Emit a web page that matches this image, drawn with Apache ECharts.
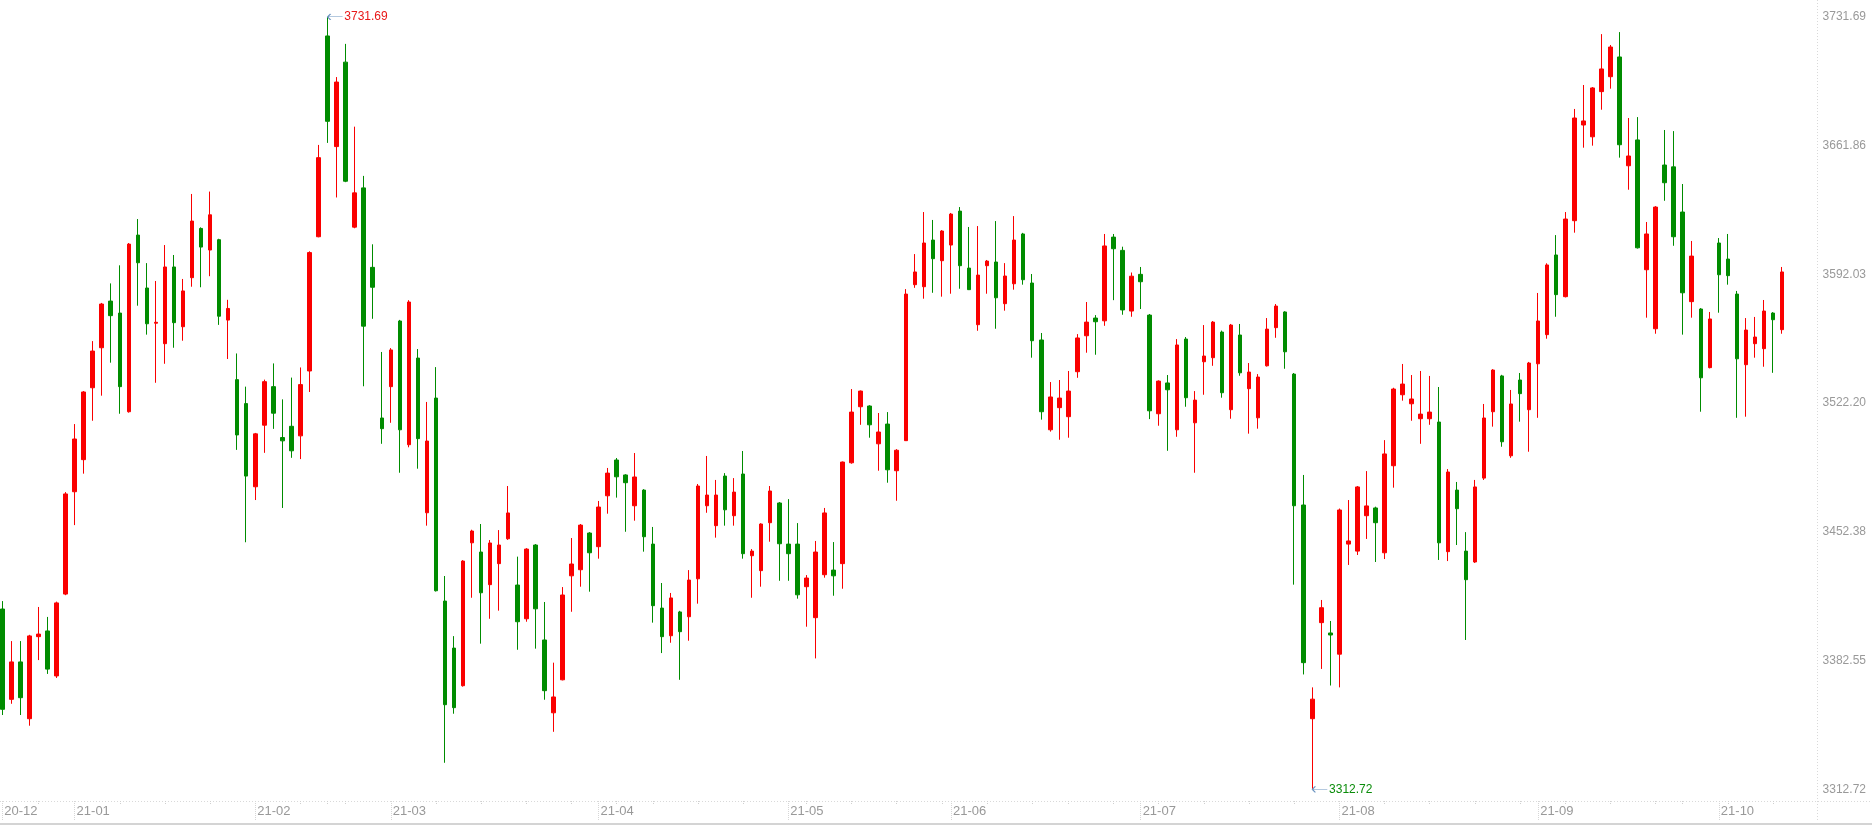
<!DOCTYPE html>
<html>
<head>
<meta charset="utf-8">
<title>日K线</title>
<script src="https://cdn.jsdelivr.net/npm/echarts@6/dist/echarts.min.js"></script>
<style>
  html, body { margin: 0; padding: 0; background: #fff; }
  #main { width: 1872px; height: 825px; }
</style>
</head>
<body>
<div id="main"></div>
<script type="text/javascript">
// 交易日
var dates = [
  '2020-12-22','2020-12-23','2020-12-24','2020-12-25','2020-12-28','2020-12-29','2020-12-30','2020-12-31',
  '2021-01-04','2021-01-05','2021-01-06','2021-01-07','2021-01-08','2021-01-11','2021-01-12','2021-01-13','2021-01-14','2021-01-15',
  '2021-01-18','2021-01-19','2021-01-20','2021-01-21','2021-01-22','2021-01-25','2021-01-26','2021-01-27','2021-01-28','2021-01-29',
  '2021-02-01','2021-02-02','2021-02-03','2021-02-04','2021-02-05','2021-02-08','2021-02-09','2021-02-10',
  '2021-02-18','2021-02-19','2021-02-22','2021-02-23','2021-02-24','2021-02-25','2021-02-26',
  '2021-03-01','2021-03-02','2021-03-03','2021-03-04','2021-03-05','2021-03-08','2021-03-09','2021-03-10','2021-03-11','2021-03-12',
  '2021-03-15','2021-03-16','2021-03-17','2021-03-18','2021-03-19','2021-03-22','2021-03-23','2021-03-24','2021-03-25','2021-03-26',
  '2021-03-29','2021-03-30','2021-03-31',
  '2021-04-01','2021-04-02','2021-04-06','2021-04-07','2021-04-08','2021-04-09','2021-04-12','2021-04-13','2021-04-14','2021-04-15',
  '2021-04-16','2021-04-19','2021-04-20','2021-04-21','2021-04-22','2021-04-23','2021-04-26','2021-04-27','2021-04-28','2021-04-29','2021-04-30',
  '2021-05-06','2021-05-07','2021-05-10','2021-05-11','2021-05-12','2021-05-13','2021-05-14','2021-05-17','2021-05-18','2021-05-19',
  '2021-05-20','2021-05-21','2021-05-24','2021-05-25','2021-05-26','2021-05-27','2021-05-28','2021-05-31',
  '2021-06-01','2021-06-02','2021-06-03','2021-06-04','2021-06-07','2021-06-08','2021-06-09','2021-06-10','2021-06-11','2021-06-15',
  '2021-06-16','2021-06-17','2021-06-18','2021-06-21','2021-06-22','2021-06-23','2021-06-24','2021-06-25','2021-06-28','2021-06-29','2021-06-30',
  '2021-07-01','2021-07-02','2021-07-05','2021-07-06','2021-07-07','2021-07-08','2021-07-09','2021-07-12','2021-07-13','2021-07-14',
  '2021-07-15','2021-07-16','2021-07-19','2021-07-20','2021-07-21','2021-07-22','2021-07-23','2021-07-26','2021-07-27','2021-07-28',
  '2021-07-29','2021-07-30',
  '2021-08-02','2021-08-03','2021-08-04','2021-08-05','2021-08-06','2021-08-09','2021-08-10','2021-08-11','2021-08-12','2021-08-13',
  '2021-08-16','2021-08-17','2021-08-18','2021-08-19','2021-08-20','2021-08-23','2021-08-24','2021-08-25','2021-08-26','2021-08-27',
  '2021-08-30','2021-08-31',
  '2021-09-01','2021-09-02','2021-09-03','2021-09-06','2021-09-07','2021-09-08','2021-09-09','2021-09-10','2021-09-13','2021-09-14',
  '2021-09-15','2021-09-16','2021-09-17','2021-09-22','2021-09-23','2021-09-24','2021-09-27','2021-09-28','2021-09-29','2021-09-30',
  '2021-10-08','2021-10-11','2021-10-12','2021-10-13','2021-10-14','2021-10-15','2021-10-18','2021-10-19'
];

// 开盘
var openArr = [
  3410.5,3361.5,3381.8,3351.0,3395.5,3398.6,3374.2,3418.6,
  3474.1,3491.5,3530.5,3552.2,3577.5,3571.0,3517.5,3613.3,3584.6,3565.5,3554.4,3596.0,3563.6,3590.2,3616.9,3605.2,3610.8,3567.2,3534.9,3521.9,
  3476.8,3510.2,3531.1,3503.5,3509.6,3504.4,3539.6,3612.4,3721.3,3661.3,3707.1,3617.6,3638.9,3595.8,3514.1,
  3531.1,3566.7,3499.6,3546.6,3462.7,3524.9,3414.8,3389.3,3368.9,3446.4,3441.4,3423.7,3435.1,3448.6,3423.5,3405.2,3445.2,3393.7,3354.2,3372.1,3428.5,3431.8,3451.7,
  3444.3,3471.9,3491.3,3483.2,3466.5,3475.0,3445.7,3411.0,3396.0,3408.9,3406.3,3426.9,3466.5,3455.7,3482.6,3461.1,3483.7,3439.4,3431.3,3457.3,3468.0,
  3445.7,3445.7,3422.6,3405.8,3429.1,3431.6,3435.1,3489.8,3520.2,3520.6,3500.1,3510.8,3485.5,3501.8,3586.4,3585.3,3610.6,3599.4,
  3607.9,3626.3,3595.4,3564.7,3596.7,3598.7,3576.1,3586.9,3613.9,3587.3,3556.4,3507.7,3519.7,3514.8,3539.2,3558.7,3568.3,3566.8,3612.2,3605.0,3572.1,
  3592.0,3569.9,3516.4,3533.1,3507.7,3556.9,3511.5,3544.6,3546.8,3560.7,3518.6,3559.1,3530.0,3514.2,3542.4,3563.1,3571.6,3537.9,3466.9,3351.0,3403.1,3397.5,
  3386.0,3445.7,3441.9,3461.1,3465.3,3441.0,3488.2,3526.7,3521.8,3513.7,3513.7,3511.9,3441.6,3475.0,3441.9,3436.0,3481.5,3517.5,3536.9,3493.6,3534.7,3518.6,
  3543.5,3559.3,3602.5,3579.9,3621.1,3673.0,3666.6,3691.1,3699.2,3709.9,3650.9,3664.9,3594.5,3562.5,3651.3,3650.3,3625.8,3577.2,3573.2,3541.4,
  3609.0,3600.3,3581.3,3543.0,3554.4,3551.7,3571.0,3562.0
];

// 收盘
var closeArr = [
  3356.1,3381.8,3362.4,3395.9,3396.9,3377.9,3413.8,3472.9,
  3502.7,3528.2,3550.4,3575.9,3569.6,3531.1,3608.4,3598.3,3565.2,3566.0,3596.0,3565.8,3583.0,3620.9,3606.8,3624.3,3569.3,3573.5,3504.9,3482.6,
  3505.5,3533.8,3516.7,3501.7,3496.3,3532.2,3603.8,3655.3,3675.0,3696.3,3642.5,3636.2,3563.9,3585.0,3508.3,
  3551.0,3507.7,3577.0,3502.9,3501.6,3420.4,3358.6,3357.0,3436.5,3452.8,3419.3,3446.3,3445.2,3462.6,3403.6,3443.0,3410.6,3366.2,3362.8,3418.1,3434.9,3456.0,3441.0,
  3465.8,3484.2,3482.2,3479.0,3482.1,3449.7,3412.3,3395.5,3416.5,3398.2,3426.2,3477.2,3472.3,3472.3,3464.3,3473.9,3440.5,3441.9,3456.6,3474.5,3445.9,
  3440.5,3418.2,3427.3,3441.4,3462.6,3428.5,3490.2,3517.3,3528.7,3510.4,3506.5,3486.0,3496.6,3581.3,3593.3,3609.0,3600.5,3615.5,
  3624.7,3596.7,3583.7,3591.6,3599.2,3579.3,3591.1,3610.6,3589.1,3556.0,3517.5,3525.5,3524.9,3528.7,3557.5,3566.1,3566.3,3607.4,3605.9,3572.7,3591.0,
  3588.0,3518.0,3534.1,3529.4,3553.7,3525.1,3523.8,3547.7,3566.1,3527.8,3564.5,3538.6,3539.0,3536.3,3562.3,3574.8,3550.0,3466.5,3381.4,3361.6,3411.2,3396.4,
  3464.2,3447.4,3476.7,3466.4,3457.3,3494.6,3529.8,3532.5,3524.4,3516.2,3517.3,3446.4,3484.8,3464.9,3426.4,3476.7,3514.1,3540.1,3501.2,3521.7,3527.3,3543.9,
  3566.7,3597.1,3581.0,3622.0,3676.8,3675.2,3693.1,3703.4,3715.3,3662.3,3656.2,3606.4,3613.9,3628.5,3641.7,3612.4,3582.0,3601.9,3535.9,3567.8,
  3591.8,3591.3,3546.2,3561.8,3558.0,3572.1,3567.4,3593.3
];

// 最低
var lowArr = [
  3353.0,3359.1,3353.0,3347.2,3382.8,3375.3,3373.1,3418.0,
  3456.0,3483.9,3512.6,3526.2,3544.1,3516.4,3517.0,3575.0,3559.3,3533.2,3543.5,3552.2,3556.0,3585.3,3585.0,3591.0,3564.6,3546.1,3496.8,3446.7,
  3469.6,3495.2,3508.2,3465.3,3492.5,3491.8,3528.2,3612.1,3663.3,3633.7,3642.0,3617.0,3531.3,3567.9,3500.1,
  3511.5,3484.4,3498.2,3486.6,3455.7,3420.0,3327.1,3353.7,3368.4,3416.6,3391.7,3405.2,3409.6,3448.0,3388.4,3403.6,3389.0,3361.3,3343.9,3371.8,3409.0,3422.6,3419.9,
  3437.8,3462.2,3470.9,3452.4,3458.4,3441.6,3403.1,3386.6,3392.2,3372.1,3393.3,3413.4,3462.7,3449.2,3455.7,3455.7,3437.8,3416.6,3422.6,3447.0,3425.8,
  3425.8,3416.1,3400.9,3383.7,3427.5,3417.7,3421.5,3489.3,3510.4,3503.4,3485.5,3479.0,3469.2,3501.8,3584.7,3578.8,3582.0,3579.9,
  3581.5,3584.2,3583.5,3561.4,3581.5,3562.5,3572.3,3583.7,3586.4,3546.8,3513.2,3506.7,3502.3,3503.4,3535.9,3549.5,3548.4,3564.1,3578.0,3570.1,3569.0,
  3573.2,3513.5,3509.9,3496.3,3503.9,3520.2,3484.4,3526.7,3542.4,3525.1,3513.7,3537.0,3505.6,3508.3,3542.0,3557.6,3540.8,3423.7,3375.0,3312.72,3378.0,3369.0,
  3368.0,3434.4,3439.8,3448.5,3436.0,3437.6,3476.3,3523.5,3512.6,3500.1,3510.4,3437.1,3436.5,3445.2,3393.7,3435.5,3480.5,3509.4,3498.5,3492.5,3512.1,3495.8,
  3514.2,3557.1,3569.0,3579.5,3614.6,3660.7,3661.8,3681.3,3692.7,3655.3,3637.9,3606.0,3568.5,3559.8,3631.9,3607.5,3559.3,3568.5,3517.5,3541.0,
  3571.2,3586.4,3514.2,3514.8,3546.8,3541.9,3538.6,3559.8
];

// 最高
var highArr = [
  3414.8,3393.1,3393.1,3396.5,3411.6,3406.2,3414.5,3473.9,
  3510.8,3528.7,3555.8,3576.5,3587.1,3596.9,3609.0,3622.0,3598.1,3588.4,3607.9,3602.5,3589.5,3635.6,3617.5,3636.9,3611.3,3578.2,3549.1,3531.1,
  3506.0,3534.9,3543.7,3524.2,3536.0,3541.5,3604.5,3662.2,3731.69,3699.0,3717.0,3672.1,3645.4,3608.3,3549.9,
  3552.0,3567.3,3578.0,3551.5,3522.8,3541.7,3428.4,3395.8,3437.0,3453.5,3456.6,3447.9,3453.3,3477.2,3438.9,3443.5,3445.7,3414.3,3381.4,3422.4,3449.0,3456.6,3452.2,
  3469.1,3487.0,3492.4,3483.6,3495.1,3475.5,3455.0,3424.6,3419.2,3409.5,3431.6,3478.3,3493.5,3480.5,3484.2,3481.5,3496.2,3443.0,3457.0,3477.2,3468.5,
  3470.1,3457.1,3428.9,3447.4,3465.3,3446.8,3490.5,3529.8,3529.0,3521.0,3516.8,3517.3,3497.2,3584.0,3603.0,3625.8,3621.5,3616.0,
  3625.3,3628.5,3617.7,3618.2,3599.8,3620.9,3598.1,3623.6,3614.5,3592.2,3560.2,3533.6,3534.7,3539.6,3559.6,3577.0,3569.9,3613.9,3613.9,3607.0,3593.0,
  3596.0,3570.5,3534.5,3537.4,3556.9,3558.0,3528.7,3564.5,3566.7,3561.5,3565.1,3565.1,3543.9,3537.9,3568.3,3575.9,3572.0,3538.5,3483.2,3368.0,3415.4,3404.0,
  3465.0,3469.6,3477.2,3485.3,3466.0,3502.1,3530.5,3543.4,3537.4,3539.6,3536.9,3530.9,3486.4,3479.4,3452.2,3480.5,3521.7,3540.6,3537.5,3529.3,3538.5,3544.5,
  3581.9,3598.0,3613.3,3625.8,3681.7,3694.7,3693.6,3722.3,3716.4,3723.4,3676.8,3677.3,3620.4,3629.0,3670.3,3669.7,3641.0,3610.1,3573.7,3571.6,
  3611.7,3613.9,3583.0,3568.3,3568.9,3578.1,3571.5,3596.0
];

// 右侧价格刻度
var yTicks = [3312.72, 3382.55, 3452.38, 3522.20, 3592.03, 3661.86, 3731.69];

var upColor = '#fa0000';
var downColor = '#008c00';
var labelFont = 'Arial, "Liberation Sans", sans-serif';

var kData = dates.map(function (d, i) {
    return [openArr[i], closeArr[i], lowArr[i], highArr[i]];
});

function weekKey(d) {
    var t = Date.UTC(+d.slice(0, 4), +d.slice(5, 7) - 1, +d.slice(8, 10)) / 86400000;
    return Math.floor((t + 3) / 7);
}
var isMonthStart = dates.map(function (d, i) {
    return i === 0 || d.slice(0, 7) !== dates[i - 1].slice(0, 7);
});
var isWeekStart = dates.map(function (d, i) {
    return i === 0 || weekKey(d) !== weekKey(dates[i - 1]);
});

var myChart = echarts.init(document.getElementById('main'));
var option = {
    animation: false,
    backgroundColor: '#fff',
    grid: {
        left: -2.2,
        right: 85.4,
        top: 0,
        bottom: 24,
        containLabel: false,
        outerBoundsMode: 'none'
    },
    xAxis: [
        {
            type: 'category',
            data: dates,
            boundaryGap: true,
            position: 'bottom',
            axisLine: { show: false },
            axisTick: {
                show: true,
                alignWithLabel: true,
                interval: function (i) { return isWeekStart[i]; },
                length: 3,
                lineStyle: { color: '#cfcfcf', type: 'dotted' }
            },
            axisLabel: {
                interval: function (i) { return isMonthStart[i]; },
                formatter: function (v) { return v.slice(2, 7); },
                align: 'left',
                padding: [0, 0, 0, 2],
                margin: 4,
                color: '#999',
                fontSize: 13,
                fontFamily: labelFont
            },
            splitLine: { show: false }
        },
        {
            type: 'category',
            data: dates,
            boundaryGap: true,
            position: 'bottom',
            axisLine: { show: false },
            axisLabel: { show: false },
            axisTick: {
                show: true,
                alignWithLabel: true,
                interval: function (i) { return isMonthStart[i]; },
                length: 20,
                lineStyle: { color: '#d6d6d6', type: 'dotted' }
            },
            splitLine: { show: false }
        }
    ],
    yAxis: {
        type: 'value',
        position: 'right',
        min: 3306.37,
        max: 3740.80,
        scale: true,
        axisLine: { show: false },
        axisTick: { show: false },
        splitLine: { show: false },
        axisLabel: {
            customValues: yTicks,
            formatter: function (v) { return v.toFixed(2); },
            margin: 36,
            color: '#999',
            fontSize: 12,
            fontFamily: labelFont
        }
    },
    graphic: [
        { type: 'line', silent: true, shape: { x1: 0, y1: 801.5, x2: 1872, y2: 801.5 },
          style: { stroke: '#d9d9d9', lineWidth: 1, lineDash: [1, 2] } },
        { type: 'line', silent: true, shape: { x1: 1817.5, y1: 0, x2: 1817.5, y2: 822 },
          style: { stroke: '#d9d9d9', lineWidth: 1, lineDash: [1, 2] } },
        { type: 'line', silent: true, shape: { x1: 0, y1: 824, x2: 1872, y2: 824 },
          style: { stroke: '#d4d4d4', lineWidth: 2 } }
    ],
    series: [
        {
            name: '日K',
            type: 'candlestick',
            data: kData,
            barWidth: 4,
            itemStyle: {
                color: upColor,
                color0: downColor,
                borderColor: upColor,
                borderColor0: downColor,
                borderWidth: 1
            },
            markPoint: {
                silent: true,
                symbol: 'path://M0,3L15,3M0,3L3,0.6M0,3L3,5.4',
                symbolSize: [15, 6],
                symbolOffset: ['50%', 0],
                itemStyle: { color: 'rgba(0,0,0,0)', borderColor: '#6b93c0', borderWidth: 1 },
                label: {
                    show: true,
                    position: 'right',
                    distance: 1,
                    fontSize: 12,
                    fontFamily: labelFont,
                    formatter: function (p) { return p.value.toFixed(2); }
                },
                data: [
                    { type: 'max', valueDim: 'highest', label: { color: '#e81818' } },
                    { type: 'min', valueDim: 'lowest', label: { color: '#0a8c0a' } }
                ]
            }
        }
    ]
};
myChart.setOption(option);
</script>
</body>
</html>
